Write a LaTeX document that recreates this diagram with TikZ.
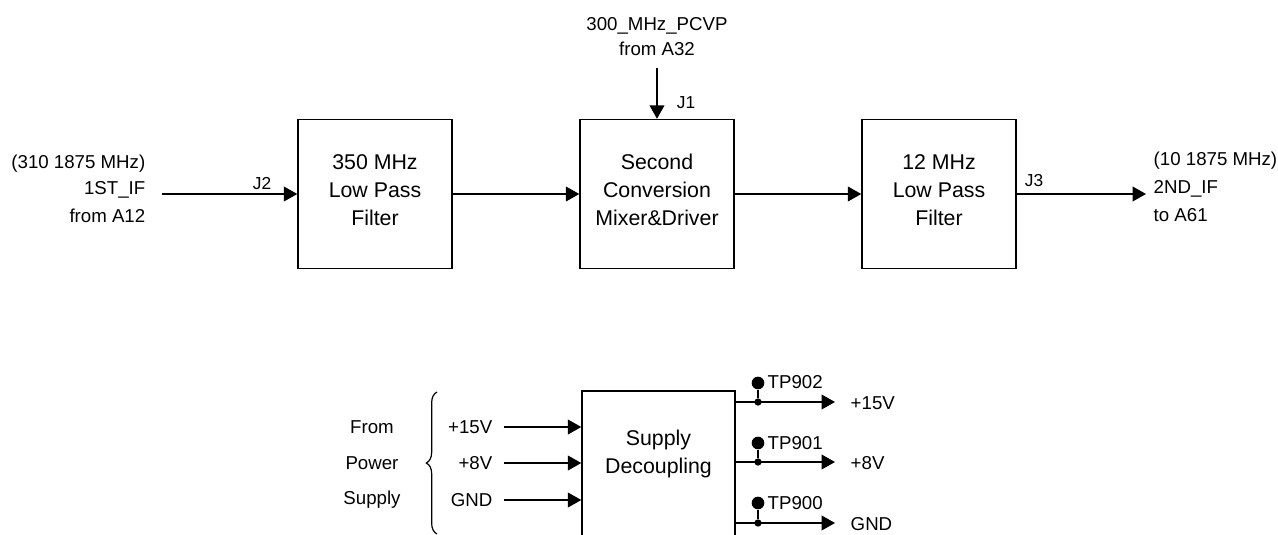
\documentclass[tikz,border=0pt]{standalone}
\usepackage{fontspec}
\setmainfont{Liberation Sans}
\usetikzlibrary{arrows.meta,decorations.pathreplacing}
\begin{document}
\begin{tikzpicture}[x=0.75pt,y=-0.75pt,
  line width=1.1pt,
  box/.style={draw,line width=1.1pt,minimum width=115.5pt,minimum height=111.75pt,inner sep=0pt},
  btxt/.style={align=center,inner sep=0pt,font=\fontsize{16}{21}\selectfont},
  lbl/.style={inner sep=0pt,font=\fontsize{14}{18.75}\selectfont},
  jl/.style={inner sep=0pt,font=\fontsize{13}{15}\selectfont},
  arr/.style={-{Triangle[length=10pt,width=11pt]}},
  tpdot/.style={circle,fill,inner sep=0pt,minimum size=9.5pt},
  jdot/.style={circle,fill,inner sep=0pt,minimum size=5.5pt},
]
\useasboundingbox (0,0) rectangle (1278,535);

% ---------- top chain ----------
\node[box] (b1) at (375,194) {};
\node[box] (b2) at (657,194) {};
\node[box] (b3) at (939,194) {};
\node[btxt] (t1) at ([yshift=3pt]b1.center) {350 MHz\\Low Pass\\Filter};
\node[btxt] (t2) at ([yshift=3pt]b2.center) {Second\\Conversion\\Mixer\&Driver};
\node[btxt] (t3) at ([yshift=3pt]b3.center) {12 MHz\\Low Pass\\Filter};

% input
\node[lbl,anchor=east] (in1) at (146,164) {(310 1875 MHz)};
\node[lbl,anchor=east] (in2) at (146,190) {1ST\_IF};
\node[lbl,anchor=east] (in3) at (146,216) {from A12};
\coordinate (inS) at (162,194);
\draw[arr] (inS) -- (b1.west);
\node[jl] (j2) at (262,184) {J2};

\draw[arr] (b1.east) -- (b2.west);
\draw[arr] (b2.east) -- (b3.west);

% top input
\node[lbl,align=center] (lo) at (657,37) {300\_MHz\_PCVP\\from A32};
\coordinate (loS) at (657,68);
\draw[arr] (loS) -- (b2.north);
\node[jl] (j1) at (686,103) {J1};

% output
\coordinate (outE) at (1146,194);
\draw[arr] (b3.east) -- (outE);
\node[jl] (j3) at (1034,181) {J3};
\node[lbl,anchor=west] (out1) at (1153,161) {(10 1875 MHz)};
\node[lbl,anchor=west] (out2) at (1153,189) {2ND\_IF};
\node[lbl,anchor=west] (out3) at (1153,215) {to A61};

% ---------- supply section ----------
\node[draw,line width=1.1pt,minimum width=114.75pt,minimum height=127.5pt,inner sep=0pt] (sd) at (658.5,476) {};
\node[btxt] (sdt) at (658.5,454) {Supply\\Decoupling};

\node[lbl] (fr) at (372,427) {From};
\node[lbl] (pw) at (372,463) {Power};
\node[lbl] (sp) at (372,500) {Supply};
\coordinate (brB) at (437,534);
\coordinate (brT) at (437,392);
\draw[line width=0.9pt,decorate,decoration={brace,amplitude=8pt}] (brB) -- (brT);

\node[lbl,anchor=east] (v15) at (493,427) {+15V};
\node[lbl,anchor=east] (v8) at (493,463) {+8V};
\node[lbl,anchor=east] (vg) at (493,500) {GND};
\draw[arr] ([xshift=8pt]v15.east) -- (sd.west |- v15.east);
\draw[arr] ([xshift=8pt]v8.east) -- (sd.west |- v8.east);
\draw[arr] ([xshift=8pt]vg.east) -- (sd.west |- vg.east);

% outputs
\coordinate (e1) at (835,402);
\coordinate (e2) at (835,462);
\coordinate (e3) at (835,523);
\node[jdot] (jd1) at (758,402) {};
\node[jdot] (jd2) at (758,462) {};
\node[jdot] (jd3) at (758,523) {};
\draw[arr] (sd.east |- e1) -- (e1);
\draw[arr] (sd.east |- e2) -- (e2);
\draw[arr] (sd.east |- e3) -- (e3);
\node[tpdot] (tp2) at (758,383) {};
\node[tpdot] (tp1) at (758,443) {};
\node[tpdot] (tp0) at (758,503) {};
\draw (tp2) -- (jd1);
\draw (tp1) -- (jd2);
\draw (tp0) -- (jd3);
\node[lbl,anchor=west] (tpl2) at (767,382) {TP902};
\node[lbl,anchor=west] (tpl1) at (767,443) {TP901};
\node[lbl,anchor=west] (tpl0) at (767,503) {TP900};
\node[lbl,anchor=west] (o15) at (850,403) {+15V};
\node[lbl,anchor=west] (o8) at (850,463) {+8V};
\node[lbl,anchor=west] (og) at (850,524) {GND};
\end{tikzpicture}
\end{document}
